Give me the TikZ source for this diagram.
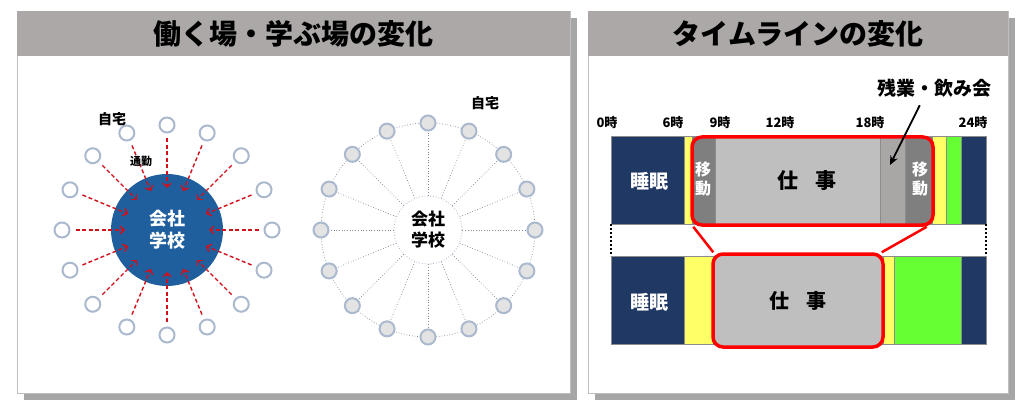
\documentclass[tikz,border=0pt]{standalone}
\usepackage{fontspec}
\setmainfont{Noto Sans CJK JP}
\usetikzlibrary{positioning,shapes,arrows.meta}

\definecolor{hdrgray}{HTML}{ABA8A7}
\definecolor{hubblue}{HTML}{1F5F9E}
\definecolor{ringblue}{HTML}{AAB9CE}
\definecolor{dashred}{HTML}{D0101A}
\definecolor{sleepnavy}{HTML}{203864}
\definecolor{lightyel}{HTML}{FFFF66}
\definecolor{brightgrn}{HTML}{66FF33}
\definecolor{workgray}{HTML}{BFBFBF}
\definecolor{movegray}{HTML}{7F7F7F}
\definecolor{extragray}{HTML}{A9A6A6}

\begin{document}
\begin{tikzpicture}[x=1pt,y=-1pt,font=\bfseries,
	home/.style={circle,draw=ringblue,line width=2pt,fill=white,minimum size=15pt,inner sep=0pt},
	homeb/.style={home,fill=black!11},
	commute/.style={draw=dashred,line width=1.4pt,dash pattern=on 4pt off 2.5pt,-{Straight Barb[length=4pt,width=8pt]}},
	spoke/.style={draw=ringblue!75!black,line width=0.7pt,dotted},
	seg/.style={draw=black!45,line width=0.6pt},
	redbox/.style={draw=red,line width=3.5pt,rounded corners=10pt,inner sep=0pt},
	tlabel/.style={font=\bfseries\fontsize{13}{13}\selectfont}]
		\useasboundingbox (0,0) rectangle (1022,406);

		% Panels
		\fill[black!35] (24,18) rectangle (577,400);
		\fill[black!35] (595,18) rectangle (1015,400);
		\draw[black!25,fill=white] (17,11) rectangle (570,393);
		\draw[black!25,fill=white] (588,11) rectangle (1008,393);
		\fill[hdrgray] (17,11) rectangle (570,56);
		\fill[hdrgray] (588,11) rectangle (1008,56);
		\node (titleL) at (293.5,33.5) {\fontsize{28}{28}\selectfont 働く場・学ぶ場の変化};
		\node (titleR) at (798,33.5) {\fontsize{28}{28}\selectfont タイムラインの変化};

		% Commuting to one place
		\node[circle,fill=hubblue,minimum size=112pt,
			text=white,align=center,font=\bfseries\fontsize{18}{22}\selectfont] (hubL) at (167,230) {会社\\学校};
		\foreach \a [count=\i] in {0,22.5,...,337.5} {
			\path (hubL.center) ++(\a:105) node[home] (homeL\i) {};
			\draw[commute,shorten <=5pt,shorten >=42pt] (homeL\i) -- (hubL.center);
		}
		\node[font=\bfseries\fontsize{14}{14}\selectfont] (homeLbl) at (112,119) {自宅};
		\node[font=\bfseries\fontsize{11}{11}\selectfont] (commuteLbl) at (141,161) {通勤};

		% Working from home
		\node[circle,draw=ringblue,dotted,line width=0.8pt,minimum size=68pt,align=center,
			font=\bfseries\fontsize{17}{21}\selectfont] (hubR) at (428,230) {会社\\学校};
		\draw[spoke] (hubR.center) circle (107);
		\foreach \a [count=\i] in {0,22.5,...,337.5} {
			\path (hubR.center) ++(\a:107) node[homeb] (homeR\i) {};
			\draw[spoke] (hubR) -- (homeR\i);
		}
		\node[font=\bfseries\fontsize{14}{14}\selectfont] (homeLblR) at (485,103) {自宅};

		% Timeline (before)
		\foreach \xa/\xb/\c in {611/684/sleepnavy,684/692/lightyel,692/715/movegray,715/880/workgray,
			880/905/extragray,905/932/movegray,932/946/lightyel,946/961/brightgrn,961/986/sleepnavy}
			\draw[seg,fill=\c] (\xa,136) rectangle (\xb,224);
		\node[redbox,minimum width=241pt,minimum height=88pt] (workT) at (812.5,181) {};
		\node[font=\bfseries\fontsize{21}{21}\selectfont] (workTxtT) at (807,181) {仕\hspace{0.85em}事};
		\node[text=white,font=\bfseries\fontsize{19}{19}\selectfont] (sleepT) at (649,181) {睡眠};
		\node[text=white,align=center,font=\bfseries\fontsize{16}{19}\selectfont] (moveA) at (703,179) {移\\動};
		\node[text=white,align=center,font=\bfseries\fontsize{16}{19}\selectfont] (moveB) at (920,179) {移\\動};

		% Hours
		\node[tlabel] (t0) at (607,123) {0時};
		\node[tlabel] (t6) at (673,123) {6時};
		\node[tlabel] (t9) at (720,123) {9時};
		\node[tlabel] (t12) at (780,123) {12時};
		\node[tlabel] (t18) at (870,123) {18時};
		\node[tlabel] (t24) at (973,123) {24時};

		\node[font=\bfseries\fontsize{19}{19}\selectfont] (overtime) at (934,88) {残業・飲み会};
		\coordinate (otEnd) at (890,165);
		\draw[line width=1.8pt,-{Stealth[length=9pt,width=8pt]},shorten <=5pt] ([xshift=-12pt]overtime.south) -- (otEnd);

		% Timeline (after)
		\draw[line width=2pt,dotted] (611,224) -- (611,256);
		\draw[line width=2pt,dotted] (986,224) -- (986,256);
		\foreach \xa/\xb/\c in {611/684/sleepnavy,684/713/lightyel,713/883/workgray,883/894/lightyel,
			894/961/brightgrn,961/986/sleepnavy}
			\draw[seg,fill=\c] (\xa,256) rectangle (\xb,344);
		\node[redbox,fill=workgray,minimum width=170pt,minimum height=93pt,
			font=\bfseries\fontsize{20}{20}\selectfont] (workB) at (798,300.5) {仕\hspace{0.85em}事};
		\node[text=white,font=\bfseries\fontsize{19}{19}\selectfont] (sleepB) at (649,302) {睡眠};
		\draw[red,line width=2.5pt] ([xshift=3pt]workT.south west) -- ([xshift=2pt]workB.north west);
		\draw[red,line width=2.5pt] ([xshift=-8pt]workT.south east) -- ([xshift=-3pt]workB.north east);
	\end{tikzpicture}
\end{document}
